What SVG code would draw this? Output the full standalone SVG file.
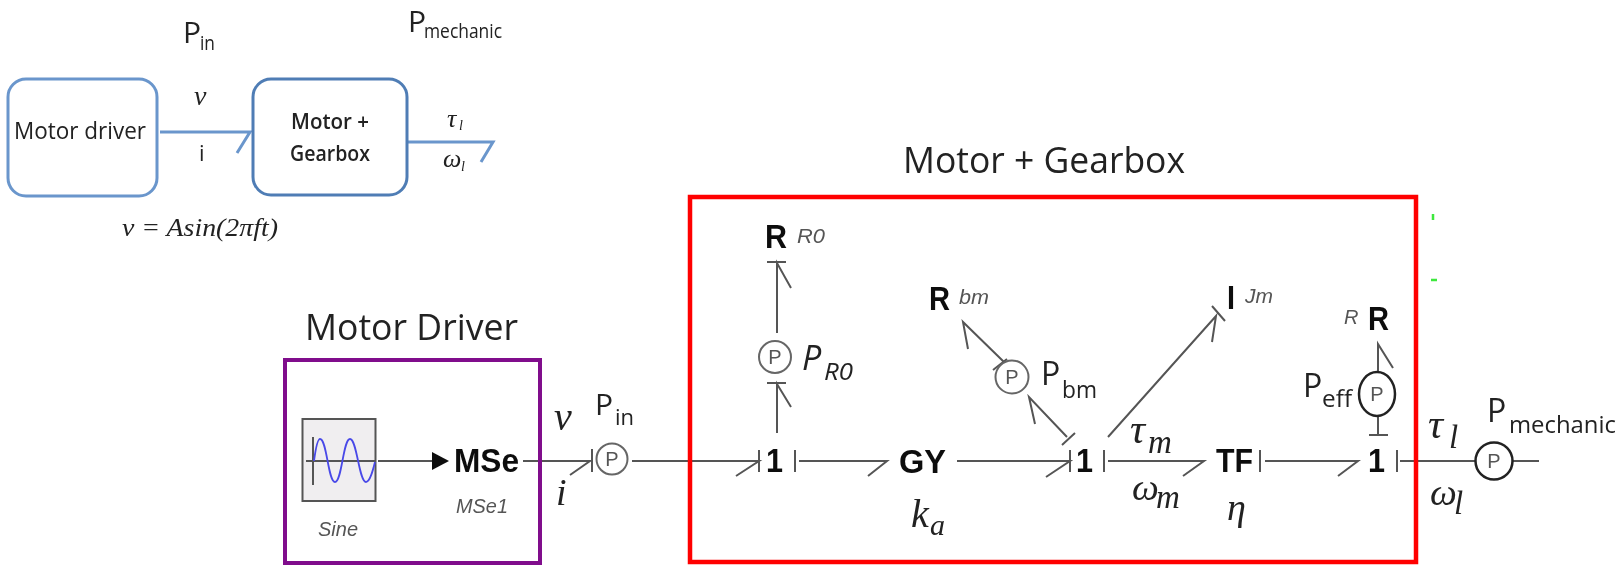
<svg xmlns="http://www.w3.org/2000/svg" width="1621" height="566" viewBox="0 0 1621 566">
<style>
text{fill:#222;font-family:"Open Sans","Noto Sans",sans-serif}
.b{font-family:"Liberation Sans",Arial,sans-serif;font-weight:bold;fill:#111;font-size:34px}
.n{font-family:"Liberation Sans",Arial,sans-serif;font-style:italic;fill:#555;font-size:20px}
.m{font-family:"Liberation Serif","DejaVu Serif",serif;font-style:italic;fill:#222}
.c{fill:#555;font-family:"Liberation Sans",Arial,sans-serif;font-size:20px;text-anchor:middle}
.bl{fill:none;stroke:#6a96cc;stroke-width:3}
.cn{fill:none;stroke:#555;stroke-width:2}
.o{fill:#fff;stroke:#666;stroke-width:2}
.ok{fill:#fff;stroke:#222;stroke-width:2.5}
</style>
<defs><filter id="soft" filterUnits="userSpaceOnUse" x="0" y="0" width="1621" height="566"><feGaussianBlur stdDeviation="0.6"/></filter></defs>
<rect width="1621" height="566" fill="#fff"/>
<g filter="url(#soft)">
<g id="connectors">
<path class="bl" d="M160 132H250L237 153M408 142H493L481 162"/>
<path class="cn" d="M523 461H590L570 475M592 449V472"/>
<path class="cn" d="M632 461H759L736 476M759 450V472"/>
<path class="cn" d="M777 433V384L791 407M767 383H786"/>
<path class="cn" d="M777 333V263L791 288M767 262H786"/>
<path class="cn" d="M795 450V472M799 461H887L868 476"/>
<path class="cn" d="M957 461H1070L1046 477M1070 450V472"/>
<path class="cn" d="M1067 437L1029 397L1035 424M1062 445L1075 433"/>
<path class="cn" d="M1004 362L963 322L968 349M993 370L1007 359"/>
<path class="cn" d="M1108 437L1216 316L1212 342M1212 306L1225 321"/>
<path class="cn" d="M1104 450V472M1108 461H1204L1183 476"/>
<path class="cn" d="M1260 450V472M1265 461H1358L1338 476"/>
<path class="cn" d="M1378 372V344L1393 368"/>
<path class="cn" d="M1378 416V434M1369 435H1388"/>
<path class="cn" d="M1397 450V472M1400 461H1476M1512 461H1539"/>
</g>
<g id="top-labels">
<text x="183" y="43" font-size="30">P</text><text x="200" y="50" font-size="20" textLength="15" lengthAdjust="spacingAndGlyphs">in</text>
<text x="408" y="32" font-size="30">P</text><text x="424" y="38" font-size="20" textLength="78" lengthAdjust="spacingAndGlyphs">mechanic</text>
<text class="m" x="194" y="105" font-size="28">v</text>
<text x="199" y="161" font-size="22">i</text>
<text class="m" x="447" y="127" font-size="26">τ</text><text class="m" x="459" y="130" font-size="14">l</text>
<text class="m" x="443" y="167" font-size="26">ω</text><text class="m" x="461" y="171" font-size="14">l</text>
<text class="m" x="122" y="236" font-size="25" textLength="156" lengthAdjust="spacingAndGlyphs">v = Asin(2πft)</text>
</g>
<g id="motor-driver-box">
<rect x="8" y="79" width="149" height="117" rx="18" class="bl"/>
<text x="14" y="139" font-size="24" textLength="132" lengthAdjust="spacingAndGlyphs">Motor driver</text>
</g>
<g id="motor-gearbox-box">
<rect x="253" y="79" width="154" height="116" rx="18" stroke="#4f7db5" stroke-width="3" fill="none"/>
<text x="291" y="129" font-size="22" font-weight="600" textLength="78" lengthAdjust="spacingAndGlyphs">Motor +</text>
<text x="290" y="161" font-size="22" font-weight="600" textLength="80" lengthAdjust="spacingAndGlyphs">Gearbox</text>
</g>
<g id="motor-driver-frame">
<rect x="285" y="360" width="255" height="203" fill="none" stroke="#800a8c" stroke-width="4"/>
<text x="305" y="340" font-size="36" textLength="213" lengthAdjust="spacingAndGlyphs">Motor Driver</text>
</g>
<g id="motor-gearbox-frame">
<rect x="690" y="197" width="726" height="365" fill="none" stroke="#f00" stroke-width="4.500"/>
<text x="903" y="173" font-size="37" textLength="282" lengthAdjust="spacingAndGlyphs">Motor + Gearbox</text>
</g>
<g id="sine">
<rect x="302.500" y="419" width="73" height="82" fill="#f0eef0" stroke="#555" stroke-width="2"/>
<path d="M306 461H376M313 437V485" fill="none" stroke="#555" stroke-width="2"/>
<path d="M314 461C316 446 318 439 320 439C327 439 328 482 335 482C342 482 343 439 350 439C357 439 359 482 366 482C370 482 373 470 375 462" fill="none" stroke="#4a4ae8" stroke-width="1.800"/>
<path d="M378 461H432" class="cn"/>
<path d="M432 452L449 461L432 470Z" fill="#111"/>
<text class="n" x="318" y="536" textLength="40" lengthAdjust="spacingAndGlyphs">Sine</text>
</g>
<g id="mse">
<text class="b" x="454" y="472" textLength="65" lengthAdjust="spacingAndGlyphs">MSe</text>
<text class="n" x="456" y="513" textLength="52" lengthAdjust="spacingAndGlyphs">MSe1</text>
</g>
<g id="p-in">
<circle cx="612" cy="459" r="15.500" class="o"/><text class="c" x="612" y="466">P</text>
<text x="595" y="415" font-size="30">P</text><text x="615" y="425" font-size="22">in</text>
<text class="m" x="554" y="430" font-size="40">v</text>
<text class="m" x="556" y="505" font-size="38">i</text>
</g>
<g id="junction-1a"><text class="b" x="766" y="472" textLength="17" lengthAdjust="spacingAndGlyphs">1</text></g>
<g id="r0">
<text class="b" x="765" y="248" textLength="22" lengthAdjust="spacingAndGlyphs">R</text>
<text class="n" x="797" y="243" textLength="28" lengthAdjust="spacingAndGlyphs">R0</text>
</g>
<g id="p-r0">
<circle cx="775" cy="357" r="16" class="o"/><text class="c" x="775" y="364">P</text>
<text x="802" y="370" font-size="34" font-style="italic">P</text>
<text x="824" y="380" font-size="24" font-style="italic" textLength="29" lengthAdjust="spacingAndGlyphs">R0</text>
</g>
<g id="gy">
<text class="b" x="899" y="473" textLength="47" lengthAdjust="spacingAndGlyphs">GY</text>
<text class="m" x="911" y="527" font-size="40">k</text><text class="m" x="930" y="535" font-size="30">a</text>
</g>
<g id="junction-1b"><text class="b" x="1076" y="472" textLength="17" lengthAdjust="spacingAndGlyphs">1</text></g>
<g id="rbm">
<text class="b" x="929" y="310" textLength="21" lengthAdjust="spacingAndGlyphs">R</text>
<text class="n" x="959" y="304" textLength="30" lengthAdjust="spacingAndGlyphs">bm</text>
</g>
<g id="p-bm">
<circle cx="1012" cy="377" r="16.500" class="o"/><text class="c" x="1012" y="384">P</text>
<text x="1041" y="385" font-size="32">P</text>
<text x="1062" y="398" font-size="24" textLength="35" lengthAdjust="spacingAndGlyphs">bm</text>
</g>
<g id="jm">
<text class="b" x="1227" y="309" textLength="8" lengthAdjust="spacingAndGlyphs">I</text>
<text class="n" x="1245" y="303" textLength="28" lengthAdjust="spacingAndGlyphs">Jm</text>
</g>
<g id="tf">
<text class="b" x="1216" y="472" textLength="37" lengthAdjust="spacingAndGlyphs">TF</text>
<text class="m" x="1130" y="443" font-size="42">τ</text><text class="m" x="1148" y="453" font-size="33">m</text>
<text class="m" x="1132" y="500" font-size="38">ω</text><text class="m" x="1156" y="508" font-size="33">m</text>
<text class="m" x="1227" y="520" font-size="38">η</text>
</g>
<g id="junction-1c"><text class="b" x="1368" y="472" textLength="17" lengthAdjust="spacingAndGlyphs">1</text></g>
<g id="r-eff">
<text class="b" x="1368" y="330" textLength="21" lengthAdjust="spacingAndGlyphs">R</text>
<text class="n" x="1344" y="324">R</text>
</g>
<g id="p-eff">
<ellipse cx="1377" cy="394" rx="18" ry="22" class="ok"/><text class="c" x="1377" y="401">P</text>
<text x="1303" y="397" font-size="32">P</text>
<text x="1322" y="407" font-size="24" textLength="30" lengthAdjust="spacingAndGlyphs">eff</text>
</g>
<g id="p-mechanic">
<circle cx="1494" cy="461" r="18.500" class="ok"/><text class="c" x="1494" y="468">P</text>
<text x="1487" y="422" font-size="32">P</text>
<text x="1509" y="433" font-size="24" textLength="107" lengthAdjust="spacingAndGlyphs">mechanic</text>
<text class="m" x="1428" y="438" font-size="42">τ</text><text class="m" x="1449" y="448" font-size="33">l</text>
<text class="m" x="1430" y="505" font-size="38">ω</text><text class="m" x="1454" y="514" font-size="33">l</text>
</g>
<path d="M1433 214V220M1431 280H1437" stroke="#3ee83e" stroke-width="2.500" fill="none"/>
</g>
</svg>
